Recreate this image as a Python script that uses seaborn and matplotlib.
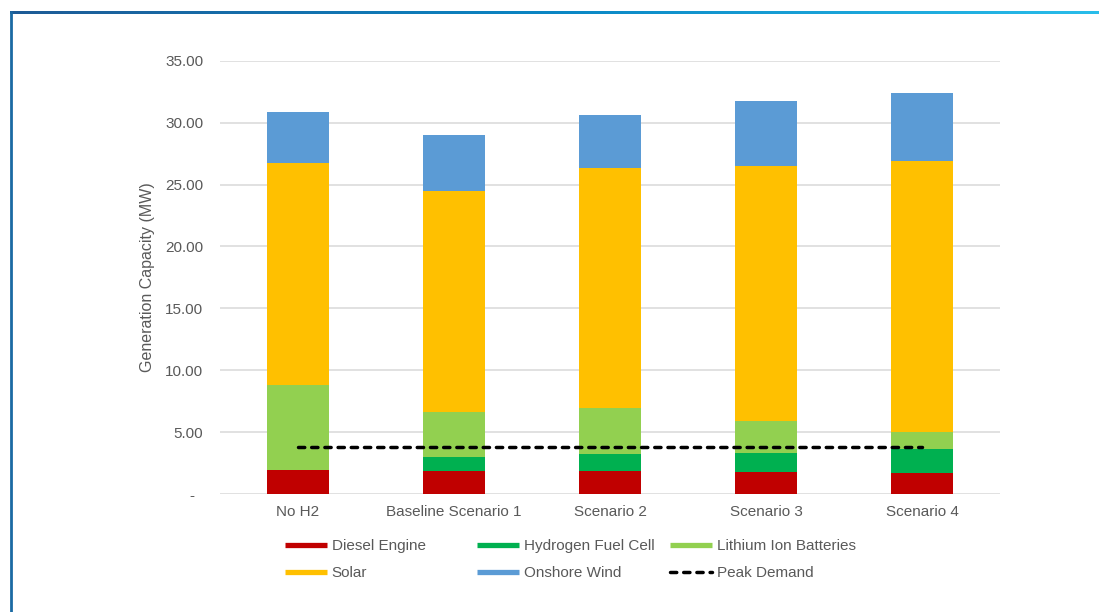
import numpy as np
import matplotlib
matplotlib.use("Agg")
import matplotlib.pyplot as plt
from matplotlib.lines import Line2D
from matplotlib.colors import LinearSegmentedColormap
import seaborn as sns

# Scenario categories and installed generation capacity (MW) per technology
categories = ["No H2", "Baseline Scenario 1", "Scenario 2", "Scenario 3", "Scenario 4"]
diesel_engine = [1.96, 1.88, 1.88, 1.78, 1.72]
hydrogen_fuel_cell = [0.00, 1.11, 1.35, 1.51, 1.89]
lithium_ion = [6.82, 3.66, 3.72, 2.61, 1.42]
solar = [17.93, 17.85, 19.38, 20.57, 21.84]
onshore_wind = [4.12, 4.50, 4.26, 5.30, 5.52]
peak_demand = [3.80, 3.80, 3.80, 3.80, 3.80]

series_names = ["Diesel Engine", "Hydrogen Fuel Cell", "Lithium Ion Batteries",
                "Solar", "Onshore Wind"]
series_values = [diesel_engine, hydrogen_fuel_cell, lithium_ion, solar, onshore_wind]
series_colors = ["#C00000", "#00B050", "#92D050", "#FFC000", "#5B9BD5"]

sns.set_style("white")
plt.rcParams["font.family"] = ["Liberation Sans", "DejaVu Sans"]
TEXT = "#595959"
FS = 11

fig = plt.figure(figsize=(10.99, 6.12), dpi=100)
W, H = 1099, 612
ax = fig.add_axes([220 / W, 1 - 494 / H, 780 / W, (494 - 60.7) / H])

# Stacked bars: draw cumulative totals from the top layer down
cumulative = np.cumsum(np.array(series_values), axis=0)
for name, color, totals in reversed(list(zip(series_names, series_colors, cumulative))):
    sns.barplot(x=categories, y=totals, order=categories, color=color,
                saturation=1, width=0.4, linewidth=0, errorbar=None, ax=ax)

# Peak demand reference line across the scenarios
peak_style = dict(color="black", lw=2.5, linestyle=(0, (1.8, 2.0)),
                  dash_capstyle="round")
sns.lineplot(x=np.arange(len(categories)), y=peak_demand, ax=ax, **peak_style)

ax.set_xlim(-0.5, len(categories) - 0.5)
ax.set_ylim(0, 35)
ticks = np.arange(0, 35.1, 5)
ax.set_yticks(ticks)
ax.set_yticklabels(["-  " if t == 0 else f"{t:.2f}" for t in ticks])
ax.yaxis.grid(True, color="#D9D9D9", lw=1.1)
ax.xaxis.grid(False)
ax.set_axisbelow(True)
for s in ax.spines.values():
    s.set_visible(False)
ax.tick_params(axis="y", length=0, pad=12, labelsize=FS, labelcolor=TEXT)
ax.tick_params(axis="x", length=0, pad=8, labelsize=FS, labelcolor=TEXT)
ax.set_xlabel("")
ax.set_ylabel("Generation Capacity (MW)", fontsize=11.5, color=TEXT)
ax.yaxis.set_label_coords((155 - 220) / 780, 0.5)
if ax.get_legend() is not None:
    ax.get_legend().remove()

# Legend laid out in three evenly spaced columns
handles = [Line2D([], [], color=c, lw=3.8, solid_capstyle="butt") for c in series_colors]
handles.append(Line2D([], [], **peak_style))
labels = series_names + ["Peak Demand"]
columns = [[0, 3], [1, 4], [2, 5]]
col_x = [284.7, 477.3, 670.0]
for cx, idx in zip(col_x, columns):
    leg = fig.legend([handles[i] for i in idx], [labels[i] for i in idx],
                     loc="upper left", bbox_to_anchor=(cx / W, 1 - 539 / H),
                     frameon=False, fontsize=FS, borderpad=0, borderaxespad=0,
                     handlelength=2.75, handletextpad=0.33, labelspacing=0.86,
                     labelcolor=TEXT)

# Frame: left rule and gradient top rule
fig.add_artist(Line2D([10.5 / W, 10.5 / W], [0, 1 - 12 / H], transform=fig.transFigure,
                      color="#1B6AA3", lw=2.0))
gax = fig.add_axes([9.5 / W, 1 - 14 / H, 1 - 9.5 / W, 3.0 / H])
grad_cmap = LinearSegmentedColormap.from_list("rule", ["#1E5B96", "#0A86C4", "#29BDEA"])
gax.imshow(np.linspace(0, 1, 256)[None, :], aspect="auto", cmap=grad_cmap)
gax.set_axis_off()

fig.savefig("out.png", dpi=100, facecolor="white")
